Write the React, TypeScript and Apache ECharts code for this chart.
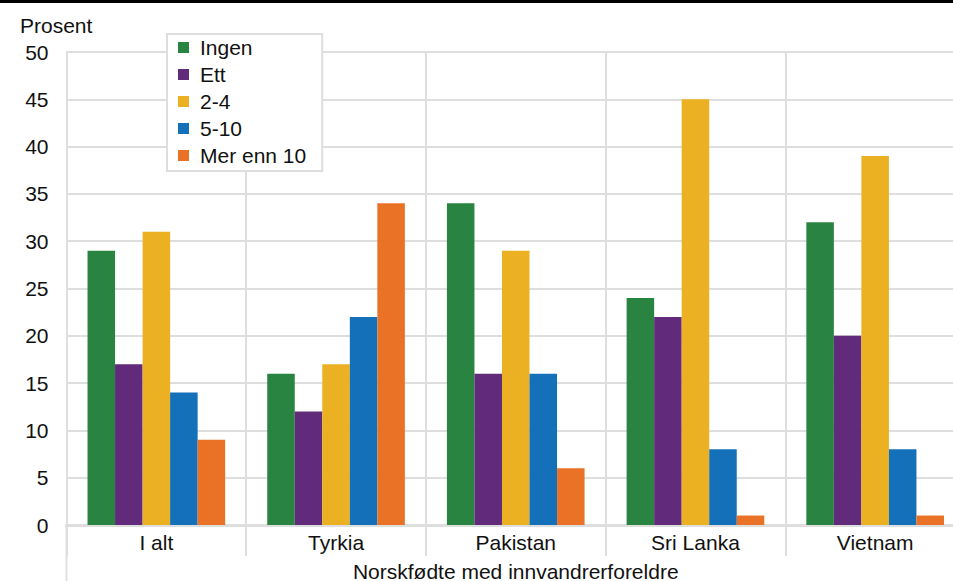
import React, { useEffect, useRef } from "react";
import * as echarts from "echarts";

const categories = ["I alt", "Tyrkia", "Pakistan", "Sri Lanka", "Vietnam"];
const seriesNames = ["Ingen", "Ett", "2-4", "5-10", "Mer enn 10"];
const ingen = [29, 16, 34, 24, 32];
const ett = [17, 12, 16, 22, 20];
const toFire = [31, 17, 29, 45, 39];
const femTi = [14, 22, 16, 8, 8];
const merEnn10 = [9, 34, 6, 1, 1];
const colors = ["#2a8441", "#612a7a", "#ebb122", "#1470b8", "#ea7226"];
const yTicks = [0, 5, 10, 15, 20, 25, 30, 35, 40, 45, 50];
const groupLabel = "Norskfødte med innvandrerforeldre";
const yName = "Prosent";

const FONT = "'Liberation Sans', Arial, sans-serif";
const GRID = "#dedede";
const FS = 21;

export default function App() {
  const ref = useRef<HTMLDivElement>(null);
  useEffect(() => {
    document.body.style.margin = "0";
    if (!ref.current) return;
    const chart = echarts.init(ref.current, null, { renderer: "svg" });
    const values = [ingen, ett, toFire, femTi, merEnn10];
    const left = 66.5;
    const top = 52;
    const width = 898.5;
    const bottom = 56;
    chart.setOption({
      animation: false,
      textStyle: { fontFamily: FONT },
      grid: { left, top, width, bottom, containLabel: false, outerBoundsMode: "none" },
      legend: {
        orient: "vertical",
        left: 167,
        top: 34,
        data: seriesNames,
        icon: "rect",
        itemWidth: 11,
        itemHeight: 11,
        itemGap: 6,
        padding: [3, 16, 5, 11],
        borderColor: GRID,
        borderWidth: 2,
        backgroundColor: "#ffffff",
        textStyle: { fontSize: FS, color: "#111", fontFamily: FONT, lineHeight: 21, padding: [0, 0, 0, 6] },
      },
      xAxis: {
        type: "category",
        data: categories,
        name: groupLabel,
        nameLocation: "middle",
        nameGap: 35.5,
        nameTextStyle: { fontSize: FS, color: "#111", fontFamily: FONT },
        axisLine: { show: true, lineStyle: { color: GRID, width: 3 } },
        axisTick: { show: true, length: 31, lineStyle: { color: GRID, width: 2 } },
        axisLabel: { fontSize: FS, color: "#111", margin: 7, fontFamily: FONT },
        splitLine: { show: true, lineStyle: { color: GRID, width: 2 } },
      },
      yAxis: {
        type: "value",
        min: 0,
        max: 50,
        interval: 5,
        axisLine: { show: true, lineStyle: { color: GRID, width: 2 } },
        axisTick: { show: false },
        axisLabel: {
          fontSize: FS,
          color: "#111",
          margin: 18,
          fontFamily: FONT,
          formatter: (v: number) => (yTicks.includes(v) ? String(v) : ""),
        },
        splitLine: { show: true, lineStyle: { color: GRID, width: 2 } },
      },
      series: seriesNames.map((name, i) => ({
        name,
        type: "bar",
        data: values[i],
        barGap: "0%",
        barCategoryGap: "23.4%",
        itemStyle: { color: colors[i] },
      })),
      graphic: [
        {
          type: "rect",
          shape: { x: 0, y: 0, width: 953, height: 3 },
          style: { fill: "#000" },
          z: 100,
        },
        {
          type: "line",
          shape: { x1: left, y1: 524, x2: left, y2: 581 },
          style: { stroke: GRID, lineWidth: 2 },
        },
        {
          type: "text",
          left: 20,
          top: 15,
          style: { text: yName, fontSize: FS, fill: "#111", fontFamily: FONT },
        },
      ],
    });
    return () => chart.dispose();
  }, []);
  return <div ref={ref} style={{ width: 953, height: 581 }} />;
}
